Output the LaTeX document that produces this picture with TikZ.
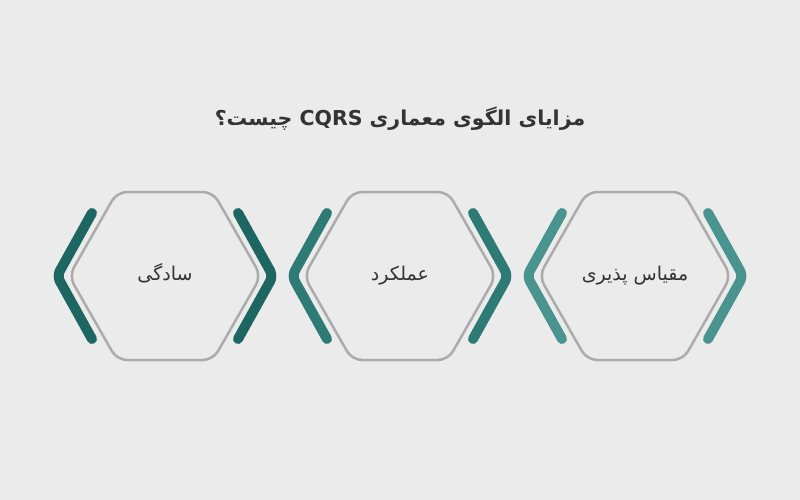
\documentclass[tikz,border=0pt]{standalone}
\usepackage{fontspec}
\TeXXeTstate=1
\newfontfamily\arabicfont[Script=Arabic]{DejaVu Sans}
\definecolor{bgc}{HTML}{EBEBEB}
\definecolor{hexc}{HTML}{ABABAB}
\definecolor{tealA}{HTML}{1E6661}
\definecolor{tealB}{HTML}{2E7B76}
\definecolor{tealC}{HTML}{4A9490}
\definecolor{txtc}{HTML}{333333}
\tikzset{
  hexline/.style={draw=hexc, line width=2.5pt, rounded corners=10pt},
  chev/.style={line width=10pt, line cap=round, line join=round, rounded corners=6pt},
  lbl/.style={font=\arabicfont\fontsize{19}{23}\selectfont, text=txtc, anchor=base},
  ttl/.style={font=\arabicfont\bfseries\fontsize{20.5}{25}\selectfont, text=txtc}
}
\newcommand{\hexitem}[4]{%
  % #1 name, #2 center x, #3 colour, #4 text
  \coordinate (#1) at (#2,276);
  \draw[hexline] ([xshift=-48pt,yshift=-84pt]#1) -- ([xshift=48pt,yshift=-84pt]#1) -- ([xshift=96pt]#1) -- ([xshift=48pt,yshift=84pt]#1) -- ([xshift=-48pt,yshift=84pt]#1) -- ([xshift=-96pt]#1) -- cycle;
  \draw[chev, draw=#3] ([xshift=-73pt,yshift=-63pt]#1) -- ([xshift=-108pt]#1) -- ([xshift=-73pt,yshift=63pt]#1);
  \draw[chev, draw=#3] ([xshift=73pt,yshift=-63pt]#1) -- ([xshift=108pt]#1) -- ([xshift=73pt,yshift=63pt]#1);
  \node[lbl] (#1-t) at ([yshift=-4.5pt]#1) {#4};
}
\begin{document}
\begin{tikzpicture}[x=1pt,y=-1pt]
\fill[bgc] (0,0) rectangle (800,500);
\useasboundingbox (0,0) rectangle (800,500);
\node[ttl] (title) at (400,119) {\beginR مزایای الگوی معماری \beginL CQRS\endL{} چیست؟\endR};
\hexitem{h1}{165}{tealA}{\beginR سادگی\endR}
\hexitem{h2}{400}{tealB}{\beginR عملکرد\endR}
\hexitem{h3}{635}{tealC}{\beginR مقیاس پذیری\endR}
\end{tikzpicture}
\end{document}
